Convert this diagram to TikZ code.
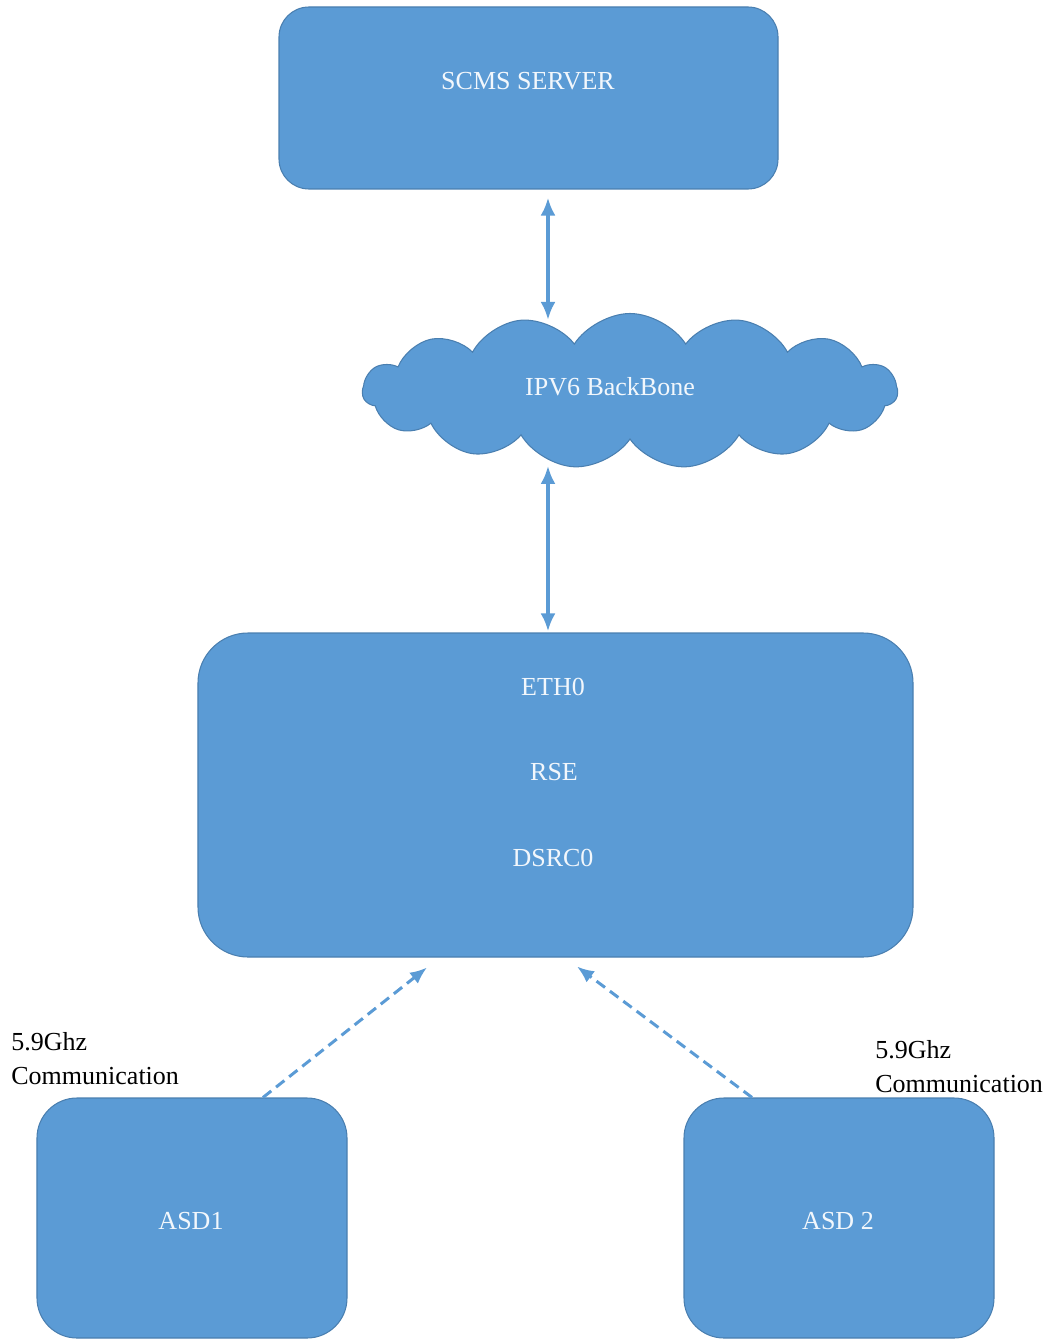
\documentclass[tikz,border=0pt]{standalone}
\usepackage{fontspec}
\setmainfont{Liberation Serif}
\usetikzlibrary{positioning,shapes.symbols,arrows.meta}
\definecolor{boxblue}{HTML}{5B9BD5}
\definecolor{boxedge}{HTML}{4A7FB0}
\definecolor{boxtext}{HTML}{F2F7FC}

\begin{document}
\begin{tikzpicture}[
				x=0.2mm, y=-0.2mm,
				every node/.style={font=\fontsize{14.8}{19.5}\selectfont},
				block/.style = {draw=boxedge, fill=boxblue, rectangle, line width=0.6pt},
				inside/.style = {text=boxtext, inner sep=0pt},
				note/.style = {align=left, inner sep=0pt, anchor=north west},
				link/.style = {draw=boxblue, line width=2.2pt, {Latex[length=3.6mm,width=3mm]}-{Latex[length=3.6mm,width=3mm]}},
				radio/.style = {draw=boxblue, line width=1.7pt, dash pattern=on 6pt off 3.5pt, -{Latex[length=3.4mm,width=2.8mm]}}
			]
			\useasboundingbox (0,0) rectangle (1047,1340);

			% Nodes
			\node [block, minimum width=99.8mm, minimum height=36.4mm, rounded corners=6mm] (scms) at (528.5,98) {};
			\node [block, cloud, cloud puffs=15, cloud puff arc=115, aspect=3.3, minimum width=107mm, minimum height=31mm] (backbone) at (630,391) {};
			\node [block, minimum width=143mm, minimum height=64.8mm, rounded corners=10mm] (rse) at (555.5,795) {};
			\node [block, minimum width=62mm, minimum height=48mm, rounded corners=8mm] (asdone) at (192,1218) {};
			\node [block, minimum width=62mm, minimum height=48mm, rounded corners=8mm] (asdtwo) at (839,1218) {};
			\coordinate (bus) at (548,0);

			% Texts
			\node [inside] (scmstext) at (528,81) {SCMS SERVER};
			\node [inside] (backbonetext) at (610,387) {IPV6 BackBone};
			\node [inside] (eth) at (553,687) {ETH0};
			\node [inside] (rsetext) at (554,772) {RSE};
			\node [inside] (dsrc) at (553,858) {DSRC0};
			\node [inside] (asdonetext) at (191,1221) {ASD1};
			\node [inside] (asdtwotext) at (838,1221) {ASD 2};
			\node [note] (freqone) at (11,1032) {5.9Ghz\\Communication};
			\node [note] (freqtwo) at (875,1040) {5.9Ghz\\Communication};

			% Lines
			\draw [link] ([yshift=-1.6mm]scms.south -| bus) -- ([yshift=-1.4mm]backbone.north -| bus);
			\draw [link] ([yshift=-5.2mm]backbone.south -| bus) -- ([yshift=0.2mm]rse.north -| bus);
			\draw [radio] ([xshift=14.2mm]asdone.north) -- ([xshift=-25.7mm, yshift=-2mm]rse.south);
			\draw [radio] ([xshift=-17.4mm]asdtwo.north) -- ([xshift=4.3mm, yshift=-1.8mm]rse.south);
		\end{tikzpicture}
\end{document}
